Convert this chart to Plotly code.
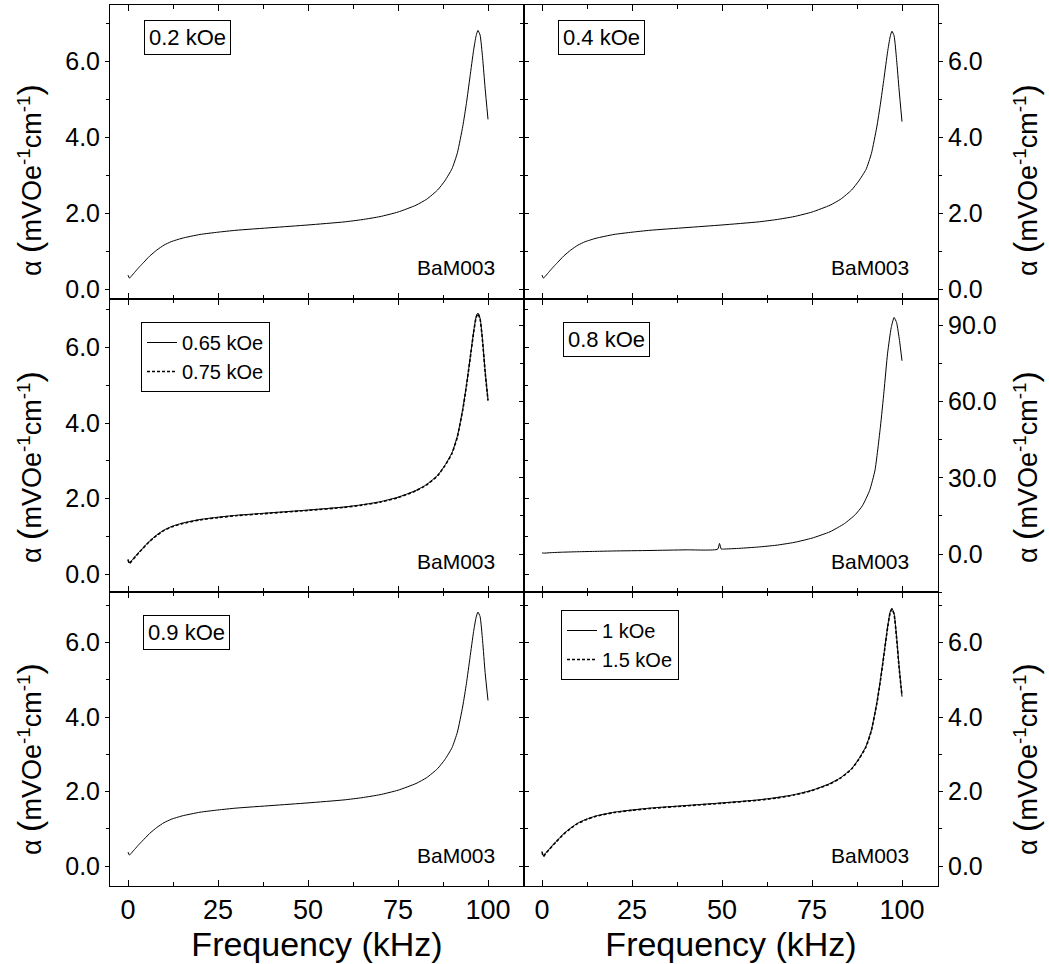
import plotly.graph_objects as go
from plotly.subplots import make_subplots

# ---------------- data ----------------
freq_khz = [0.0, 0.4, 1.0, 2.0, 3.0, 4.0, 6.0, 8.0, 10.0, 12.0, 15.0, 20.0, 25.0, 30.0,
            40.0, 50.0, 60.0, 65.0, 70.0, 75.0, 80.0, 83.0, 86.0, 88.0, 90.0, 91.5,
            93.0, 94.0, 95.0, 96.0, 96.7, 97.2, 97.8, 98.5, 99.2, 100.0]

alpha_02 = [0.38, 0.30, 0.36, 0.47, 0.58, 0.68, 0.88, 1.04, 1.17, 1.26, 1.35, 1.45, 1.51, 1.56,
            1.63, 1.70, 1.78, 1.84, 1.92, 2.04, 2.22, 2.38, 2.62, 2.86, 3.18, 3.60,
            4.30, 4.90, 5.60, 6.30, 6.68, 6.82, 6.70, 6.10, 5.30, 4.48]
alpha_04 = [0.38, 0.30, 0.36, 0.47, 0.58, 0.68, 0.88, 1.04, 1.17, 1.26, 1.35, 1.45, 1.51, 1.56,
            1.63, 1.70, 1.78, 1.84, 1.92, 2.04, 2.22, 2.38, 2.62, 2.86, 3.16, 3.58,
            4.28, 4.88, 5.56, 6.26, 6.65, 6.80, 6.68, 6.05, 5.25, 4.42]
alpha_065 = [0.40, 0.30, 0.36, 0.47, 0.58, 0.68, 0.88, 1.04, 1.17, 1.26, 1.35, 1.45, 1.51, 1.56,
             1.63, 1.70, 1.78, 1.84, 1.92, 2.04, 2.22, 2.38, 2.62, 2.88, 3.22, 3.66,
             4.38, 5.00, 5.70, 6.42, 6.82, 6.92, 6.78, 6.18, 5.38, 4.62]
alpha_075 = [0.38, 0.28, 0.35, 0.46, 0.57, 0.67, 0.87, 1.03, 1.16, 1.25, 1.34, 1.44, 1.50, 1.55,
             1.62, 1.69, 1.77, 1.83, 1.91, 2.03, 2.21, 2.37, 2.61, 2.87, 3.20, 3.64,
             4.36, 4.98, 5.68, 6.40, 6.80, 6.90, 6.76, 6.16, 5.36, 4.60]
alpha_09 = [0.38, 0.30, 0.36, 0.47, 0.58, 0.68, 0.88, 1.04, 1.17, 1.26, 1.35, 1.45, 1.51, 1.56,
            1.63, 1.70, 1.78, 1.84, 1.92, 2.04, 2.22, 2.38, 2.62, 2.86, 3.18, 3.60,
            4.30, 4.90, 5.60, 6.30, 6.68, 6.82, 6.70, 6.05, 5.20, 4.45]
alpha_1 = [0.40, 0.28, 0.35, 0.46, 0.57, 0.67, 0.87, 1.03, 1.16, 1.25, 1.35, 1.45, 1.51, 1.56,
           1.63, 1.70, 1.78, 1.84, 1.92, 2.04, 2.22, 2.38, 2.62, 2.88, 3.22, 3.66,
           4.38, 5.00, 5.70, 6.42, 6.82, 6.92, 6.78, 6.15, 5.35, 4.55]
alpha_15 = [0.38, 0.26, 0.34, 0.45, 0.56, 0.66, 0.86, 1.02, 1.15, 1.24, 1.34, 1.44, 1.50, 1.55,
            1.62, 1.69, 1.77, 1.83, 1.91, 2.03, 2.21, 2.37, 2.61, 2.87, 3.20, 3.64,
            4.36, 4.98, 5.68, 6.40, 6.80, 6.90, 6.76, 6.12, 5.32, 4.58]

freq_08 = [0.0, 0.5, 2.0, 5.0, 10.0, 15.0, 20.0, 30.0, 40.0, 48.8, 49.3, 49.8, 50.5, 55.0,
           60.0, 65.0, 70.0, 75.0, 80.0, 84.0, 87.0, 89.0, 91.0, 92.5, 94.0, 95.0, 96.0,
           97.0, 97.8, 98.5, 99.3, 100.0]
alpha_08 = [0.5, 0.4, 0.55, 0.75, 0.95, 1.1, 1.25, 1.45, 1.7, 1.95, 4.2, 2.0, 2.0, 2.3,
            2.8, 3.5, 4.6, 6.3, 8.8, 12.0, 15.5, 19.0, 25.0, 33.0, 50.0, 64.0, 79.0,
            89.0, 93.0, 91.0, 84.0, 76.0]

field_labels = ["0.2 kOe", "0.4 kOe", "0.65 kOe", "0.75 kOe", "0.8 kOe", "0.9 kOe", "1 kOe", "1.5 kOe"]
sample_name = "BaM003"
x_ticks = [0, 25, 50, 75, 100]

FONT = "Liberation Sans, Arial, sans-serif"
W, H = 1049, 964
ML, MR, MT, MB = 110, 111, 5, 78

fig = make_subplots(rows=3, cols=2, horizontal_spacing=0, vertical_spacing=0)

line_solid = dict(color="black", width=1, shape="spline", smoothing=0.5)
line_dash = dict(color="black", width=1.6, dash="3px,2px", shape="spline", smoothing=0.5)

fig.add_trace(go.Scatter(x=freq_khz, y=alpha_02, mode="lines", line=line_solid, showlegend=False), 1, 1)
fig.add_trace(go.Scatter(x=freq_khz, y=alpha_04, mode="lines", line=line_solid, showlegend=False), 1, 2)
fig.add_trace(go.Scatter(x=freq_khz, y=alpha_065, mode="lines", line=line_solid, name=field_labels[2],
                         legend="legend"), 2, 1)
fig.add_trace(go.Scatter(x=freq_khz, y=alpha_075, mode="lines", line=line_dash, name=field_labels[3],
                         legend="legend"), 2, 1)
fig.add_trace(go.Scatter(x=freq_08, y=alpha_08, mode="lines", line=line_solid, showlegend=False), 2, 2)
fig.add_trace(go.Scatter(x=freq_khz, y=alpha_09, mode="lines", line=line_solid, showlegend=False), 3, 1)
fig.add_trace(go.Scatter(x=freq_khz, y=alpha_1, mode="lines", line=line_solid, name=field_labels[6],
                         legend="legend2"), 3, 2)
fig.add_trace(go.Scatter(x=freq_khz, y=alpha_15, mode="lines", line=line_dash, name=field_labels[7],
                         legend="legend2"), 3, 2)

y_ranges = {(1, 1): [-0.24, 7.49], (1, 2): [-0.24, 7.49],
            (2, 1): [-0.48, 7.3], (2, 2): [-15, 100.4],
            (3, 1): [-0.53, 7.35], (3, 2): [-0.53, 7.35]}

for r in range(1, 4):
    for c in range(1, 3):
        fig.update_xaxes(range=[-5, 110], tickvals=x_ticks, ticks="inside", ticklen=6,
                         showline=True, linecolor="black", linewidth=1, mirror="allticks",
                         showgrid=False, zeroline=False,
                         minor=dict(dtick=12.5, tick0=0, ticks="inside", ticklen=4, tickcolor="black"),
                         tickcolor="black",
                         showticklabels=(r == 3),
                         tickfont=dict(family=FONT, size=27, color="black"),
                         row=r, col=c)
        big = (r, c) == (2, 2)
        fig.update_yaxes(range=y_ranges[(r, c)], dtick=30 if big else 2, tick0=0,
                         tickformat=".1f", ticks="outside", ticklen=4, tickcolor="black",
                         showline=True, linecolor="black", linewidth=1, mirror="allticks",
                         showgrid=False, zeroline=False,
                         minor=dict(dtick=15 if big else 1, tick0=0, ticks="outside", ticklen=3,
                                    tickcolor="black"),
                         side="right" if c == 2 else "left",
                         tickfont=dict(family=FONT, size=25, color="black"),
                         row=r, col=c)

for c in (1, 2):
    fig.update_xaxes(title=dict(text="Frequency (kHz)", font=dict(family=FONT, size=34, color="black"),
                                standoff=4), row=3, col=c)

ytitle = ("α <span style='font-size:34px'>(</span>mVOe<sup>-1</sup>cm<sup>-1</sup>"
          "<span style='font-size:34px'>)</span>")

PW = W - ML - MR
PH = H - MT - MB


def px_x(px):
    return (px - ML) / PW


def px_y(py):
    return (H - MB - py) / PH


annotations = []
# y-axis titles
for row_center in (180, 467, 759):
    for xpx in (29, 1025):
        annotations.append(dict(text=ytitle, x=px_x(xpx), y=px_y(row_center), xref="paper", yref="paper",
                                showarrow=False, textangle=-90, xanchor="center", yanchor="middle",
                                font=dict(family=FONT, size=27, color="black")))

# sample name in each panel
axis_ids = {(1, 1): ("x", "y"), (1, 2): ("x2", "y2"), (2, 1): ("x3", "y3"),
            (2, 2): ("x4", "y4"), (3, 1): ("x5", "y5"), (3, 2): ("x6", "y6")}
for (r, c), (xa, ya) in axis_ids.items():
    annotations.append(dict(text=sample_name, x=0.836, y=0.105, xref=xa + " domain", yref=ya + " domain",
                            showarrow=False, xanchor="center", yanchor="middle",
                            font=dict(family=FONT, size=21, color="black")))

# single-field boxes
for (r, c), lab, xd, yd in [((1, 1), field_labels[0], 0.186, 0.89),
                            ((1, 2), field_labels[1], 0.188, 0.89),
                            ((2, 2), field_labels[4], 0.20, 0.86),
                            ((3, 1), field_labels[5], 0.184, 0.862)]:
    xa, ya = axis_ids[(r, c)]
    annotations.append(dict(text=lab, x=xd, y=yd, xref=xa + " domain", yref=ya + " domain",
                            showarrow=False, xanchor="center", yanchor="middle",
                            bordercolor="black", borderwidth=1, borderpad=4, bgcolor="white",
                            font=dict(family=FONT, size=22, color="black")))

fig.update_layout(
    width=W, height=H,
    margin=dict(l=ML, r=MR, t=MT, b=MB),
    plot_bgcolor="white", paper_bgcolor="white",
    font=dict(family=FONT, color="black"),
    annotations=annotations,
    legend=dict(x=px_x(141), y=px_y(322), xanchor="left", yanchor="top",
                bordercolor="black", borderwidth=1, bgcolor="white",
                font=dict(family=FONT, size=20, color="black"), tracegroupgap=0,
                itemwidth=30),
    legend2=dict(x=px_x(561), y=px_y(610), xanchor="left", yanchor="top",
                 bordercolor="black", borderwidth=1, bgcolor="white",
                 font=dict(family=FONT, size=20, color="black"), tracegroupgap=0,
                 itemwidth=30),
)

fig.write_html("out.html", config={"displayModeBar": False},
               post_script="document.body.style.margin='0';document.body.style.overflow='hidden';")
